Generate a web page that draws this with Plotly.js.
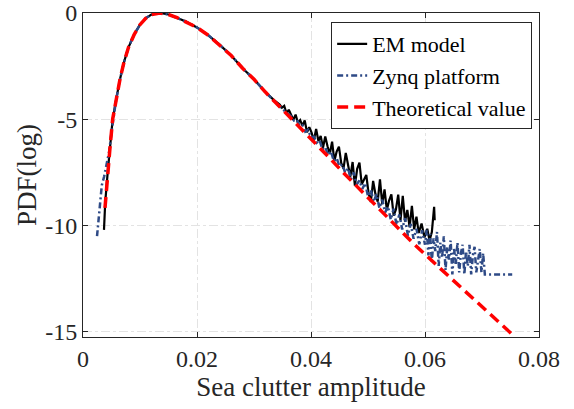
<!DOCTYPE html>
<html>
<head>
<meta charset="utf-8">
<script src="https://cdn.plot.ly/plotly-3.0.1.min.js"></script>
<style>html,body{margin:0;padding:0;background:#fff;}#chart{width:574px;height:409px;}</style>
</head>
<body>
<div id="chart"></div>
<script>
// ---- data ----
const seriesNames = ["EM model", "Zynq platform", "Theoretical value"];

const theoX = [0.00386,0.0043,0.0047,0.0052,0.0058,0.0065,0.0072,0.0080,0.0090,0.0100,0.0110,0.0120,0.0135,0.0150,0.0165,0.0180,0.0200,0.0220,0.0240,0.0260,0.0280,0.0300,0.0320,0.0345,0.0370,0.0400,0.0430,0.0460,0.0500,0.0540,0.0580,0.0620,0.0660,0.0700,0.0730,0.0758];
const theoY = [-9.17,-7.6,-6.45,-5.0,-4.1,-3.1,-2.3,-1.6,-1.0,-0.55,-0.25,-0.07,0,-0.07,-0.22,-0.40,-0.68,-1.05,-1.5,-2.0,-2.6,-3.12,-3.72,-4.4,-5.1,-5.9,-6.75,-7.6,-8.7,-9.8,-10.85,-11.85,-12.85,-13.85,-14.55,-15.24];

const emX = [0.00368,0.00375,0.0039,0.0043,0.0047,0.0052,0.0058,0.0065,0.0072,0.0080,0.0090,0.0100,0.0110,0.0120,0.0135,0.0150,0.0165,0.0180,0.0200,0.0220,0.0240,0.0260,0.0280,0.0300,0.0320,0.0335,
  0.0345,0.0349,0.0353,0.0357,0.0361,0.0365,0.0369,0.0373,0.0377,0.0381,0.0385,0.0389,0.0393,0.0397,0.0401,0.0405,0.0409,0.0413,0.0417,0.0421,0.0425,0.0429,0.0433,0.0437,0.0441,0.0445,0.0449,0.0453,0.0457,0.0461,0.0465,0.0469,0.0473,0.0477,0.0481,0.0485,0.0489,0.0493,0.0497,0.0501,0.0505,0.0509,0.0513,0.0517,0.0521,0.0525,0.0529,0.0533,0.0537,0.0541,0.0545,0.0549,0.0553,0.0557,0.0561,0.0565,0.0569,0.0573,0.0577,0.0581,0.0585,0.0589,0.0594,0.0599,0.0604,0.0608,0.0612,0.0616,0.0617];
const emY = [-10.2,-9.4,-8.9,-7.6,-6.45,-5.0,-4.1,-3.1,-2.3,-1.6,-1.0,-0.55,-0.25,-0.07,0,-0.07,-0.22,-0.40,-0.68,-1.05,-1.5,-2.0,-2.6,-3.12,-3.72,-4.1,
  -4.30,-4.45,-4.37,-4.72,-4.55,-4.81,-5.02,-4.78,-5.17,-5.04,-5.30,-5.06,-5.61,-5.37,-5.63,-5.99,-5.45,-6.02,-5.78,-6.34,-5.81,-6.27,-6.63,-6.05,-6.96,-6.52,-6.29,-7.05,-7.32,-6.58,-7.19,-7.70,-7.01,-8.12,-7.33,-7.04,-8.05,-7.81,-7.62,-8.48,-8.89,-7.90,-8.51,-8.87,-7.83,-8.99,-8.30,-9.26,-8.82,-8.53,-9.53,-9.24,-8.54,-9.75,-8.60,-9.81,-9.26,-10.07,-9.07,-10.18,-9.58,-10.35,-9.90,-10.55,-10.15,-10.70,-10.30,-9.12,-9.75];

const zynqX = [0.00246,0.0027,0.0030,0.0033,0.0037,0.0042,0.0046,0.0050,0.0054,0.0058,0.0065,0.0072,0.0080,0.0090,0.0100,0.0110,0.0120,0.0135,0.0150,0.0165,0.0180,0.0200,0.0220,0.0240,0.0260,0.0280,0.0300,0.0320,0.0345,
  0.0360,0.0365,0.0370,0.0375,0.0380,0.0385,0.0390,0.0395,0.0400,0.0405,0.0410,0.0415,0.0420,0.0425,0.0430,0.0435,0.0440,0.0445,0.0450,0.0455,0.0460,0.0465,0.0470,0.0475,0.0480,0.0485,0.0490,0.0495,0.0500,0.0505,0.0510,0.0515,0.0520,0.0525,0.0530,0.0535,0.0540,0.0545,0.0550,0.0555,0.0560,0.0565,0.0570,0.0575,0.0580,0.0585,0.0590,0.0595,
  0.0600,0.0603,0.0606,0.0609,0.0612,0.0615,0.0618,0.0621,0.0624,0.0627,0.0630,0.0633,0.0636,0.0639,0.0642,0.0645,0.0648,0.0651,0.0654,0.0657,0.0660,0.0663,0.0666,0.0669,0.0672,0.0675,0.0678,0.0681,0.0684,0.0687,0.0690,0.0693,0.0696,0.0699,0.0702,0.0705,0.0728,0.0753];
const zynqY = [-10.5,-9.7,-8.7,-8.1,-7.7,-7.1,-6.5,-5.6,-4.8,-4.1,-3.1,-2.3,-1.6,-1.0,-0.55,-0.25,-0.07,0,-0.07,-0.22,-0.40,-0.68,-1.05,-1.5,-2.0,-2.6,-3.12,-3.72,-4.4,
  -4.75,-4.85,-5.05,-5.00,-5.32,-5.28,-5.58,-5.50,-5.85,-5.82,-6.10,-5.98,-6.42,-6.30,-6.68,-6.50,-6.97,-6.82,-7.22,-7.12,-7.52,-7.30,-7.82,-7.50,-8.07,-7.88,-8.28,-8.00,-8.62,-8.33,-8.88,-8.52,-9.18,-8.78,-9.38,-9.10,-9.72,-9.20,-9.97,-9.48,-10.18,-9.65,-10.47,-9.92,-10.62,-10.15,-10.88,-10.22,
  -10.9,-10.2,-11.4,-10.4,-11.7,-10.6,-11.2,-10.3,-11.9,-10.8,-11.5,-10.5,-12.1,-11.0,-11.6,-10.7,-12.3,-11.1,-11.8,-10.8,-12.2,-11.3,-10.9,-12.3,-11.2,-11.9,-10.9,-12.3,-11.4,-11.0,-12.2,-11.5,-11.1,-12.2,-11.3,-12.3,-12.3,-12.3];

const xTickVals = [0, 0.02, 0.04, 0.06, 0.08];
const xTickText = ["0", "0.02", "0.04", "0.06", "0.08"];
const yTickVals = [-15, -10, -5, 0];
const yTickText = ["-15", "-10", "-5", "0"];

// ---- chart ----
const FONT = "Liberation Serif, Times New Roman, serif";
const traces = [
  {x: emX, y: emY, name: seriesNames[0], type: "scatter", mode: "lines",
   line: {color: "#000000", width: 2.2}},
  {x: zynqX, y: zynqY, name: seriesNames[1], type: "scatter", mode: "lines",
   line: {color: "#2e4a86", width: 2.5, dash: "6px,3px,2px,3px"}},
  {x: theoX, y: theoY, name: seriesNames[2], type: "scatter", mode: "lines",
   line: {color: "#ff0000", width: 3.5, dash: "11px,6px"}}
];

const axisCommon = {
  showline: true, linecolor: "#262626", linewidth: 1, mirror: "allticks",
  ticks: "inside", ticklen: 5, tickcolor: "#262626",
  showgrid: true, gridcolor: "#e3e3e3", griddash: "dashdot", gridwidth: 1,
  zeroline: false, ticklabeloverflow: "allow",
  tickfont: {family: FONT, size: 24, color: "#262626"}
};

const layout = {
  width: 574, height: 409,
  margin: {l: 83, r: 35, t: 13, b: 72},
  paper_bgcolor: "#ffffff", plot_bgcolor: "#ffffff",
  font: {family: FONT, color: "#262626"},
  showlegend: true,
  xaxis: Object.assign({}, axisCommon, {
    range: [0, 0.08], tickvals: xTickVals, ticktext: xTickText,
    title: {text: "Sea clutter amplitude", font: {family: FONT, size: 27, color: "#262626"}, standoff: 4}
  }),
  yaxis: Object.assign({}, axisCommon, {
    range: [-15.24, 0], tickvals: yTickVals, ticktext: yTickText,
    title: {text: "PDF(log)", font: {family: FONT, size: 27, color: "#262626"}, standoff: 0}
  }),
  legend: {
    x: 0.985, y: 0.972, xanchor: "right", yanchor: "top",
    bgcolor: "#ffffff", bordercolor: "#262626", borderwidth: 1,
    font: {family: FONT, size: 22, color: "#000000"},
    tracegroupgap: 0, itemwidth: 30
  }
};

Plotly.newPlot("chart", traces, layout, {staticPlot: true, displayModeBar: false});
</script>
</body>
</html>
